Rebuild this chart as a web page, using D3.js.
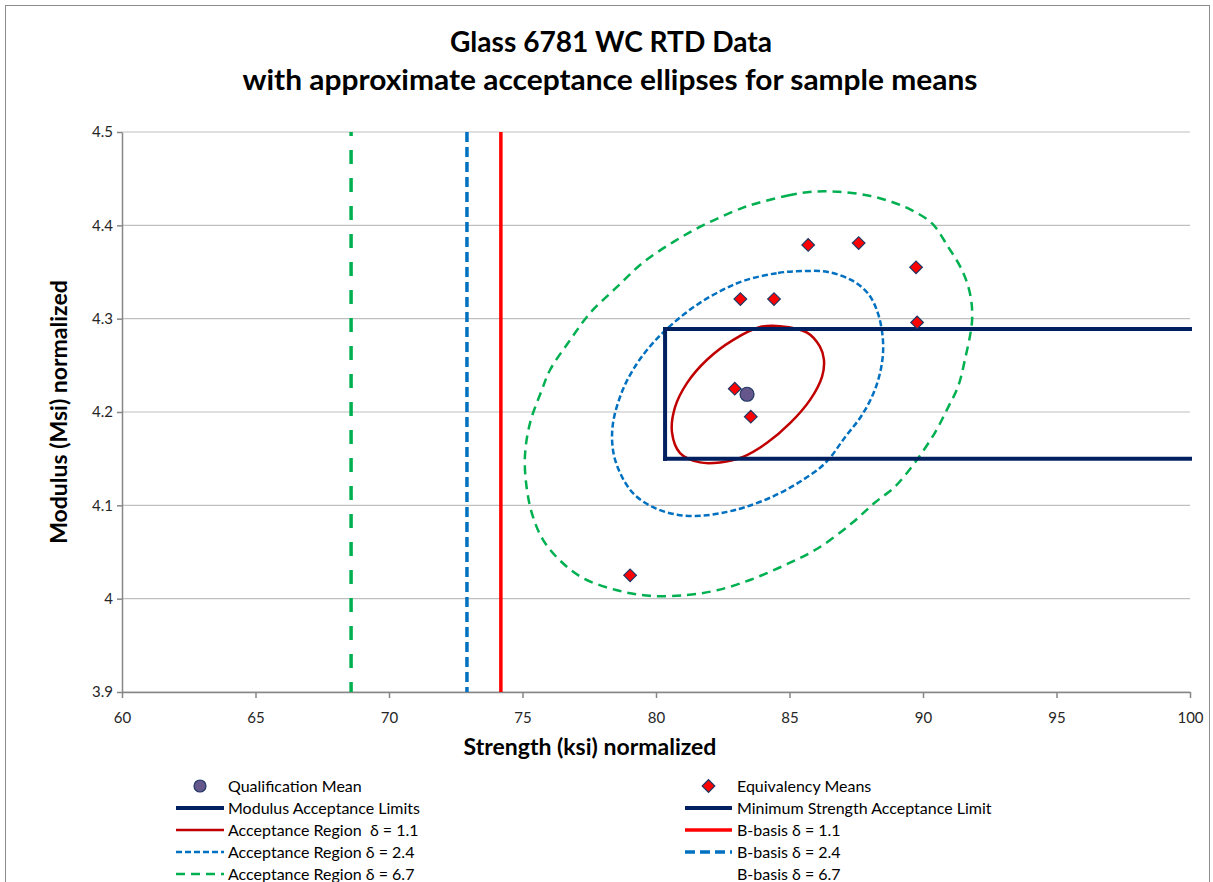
<!DOCTYPE html>
<html>
<head>
<meta charset="utf-8">
<script src="https://cdn.jsdelivr.net/npm/d3@7"></script>
<style>
  body { margin: 0; background: #fff; }
  text { font-family: Lato, "Open Sans", sans-serif; white-space: pre; }
</style>
</head>
<body>
<div id="chart"></div>
<script>
// Data
const xTicks = [60, 65, 70, 75, 80, 85, 90, 95, 100]
const yTicks = [3.9, 4, 4.1, 4.2, 4.3, 4.4, 4.5]

const qualMean = [{ x: 83.41, y: 4.219 }]

const equivMeans = [
    { x: 85.70, y: 4.379 },
    { x: 87.59, y: 4.381 },
    { x: 89.74, y: 4.355 },
    { x: 83.16, y: 4.321 },
    { x: 84.42, y: 4.321 },
    { x: 89.78, y: 4.296 },
    { x: 82.95, y: 4.225 },
    { x: 83.55, y: 4.195 },
    { x: 79.03, y: 4.025 },
]

const modulusLimits = [4.150, 4.289]
const minStrengthLimit = 80.34

const bBasis11 = 74.19
const bBasis24 = 72.92
const bBasis67 = 68.58

// acceptance ellipses, traced points (strength, modulus)
const ellipse11 = [
    [84.64, 4.292], [85.66, 4.285], [86.14, 4.270], [86.29, 4.256], [86.22, 4.238],
    [85.77, 4.213], [85.02, 4.188], [84.16, 4.167], [83.26, 4.152], [82.40, 4.146],
    [81.65, 4.146], [80.90, 4.156], [80.60, 4.178], [80.71, 4.205], [81.16, 4.231],
    [81.91, 4.256], [82.88, 4.277], [83.90, 4.291],
]

const ellipse24 = [
    [83.33, 4.341], [84.57, 4.349], [85.47, 4.351], [86.44, 4.350], [87.34, 4.341],
    [87.94, 4.327], [88.31, 4.306], [88.50, 4.277], [88.46, 4.252], [88.20, 4.224],
    [87.72, 4.197], [87.08, 4.173], [86.33, 4.145], [85.32, 4.124], [84.34, 4.109],
    [83.33, 4.098], [82.66, 4.093], [81.76, 4.089], [80.79, 4.090], [79.89, 4.098],
    [79.14, 4.113], [78.65, 4.135], [78.39, 4.159], [78.39, 4.188], [78.76, 4.224],
    [79.29, 4.252], [79.89, 4.274], [80.64, 4.295], [81.54, 4.315], [82.51, 4.331],
]

const ellipse67 = [
    [83.82, 4.424], [84.94, 4.432], [85.84, 4.436], [86.82, 4.436], [87.94, 4.432],
    [88.84, 4.425], [89.59, 4.416], [90.34, 4.402], [90.94, 4.377], [91.46, 4.352],
    [91.76, 4.327], [91.84, 4.299], [91.57, 4.256], [91.31, 4.227], [90.94, 4.205],
    [90.45, 4.178], [89.70, 4.146], [88.95, 4.120], [88.20, 4.103], [87.34, 4.081],
    [86.07, 4.054], [84.83, 4.036], [83.52, 4.020], [82.28, 4.009], [81.16, 4.004],
    [79.78, 4.003], [78.54, 4.009], [77.27, 4.022], [76.40, 4.041], [75.77, 4.063],
    [75.39, 4.088], [75.17, 4.116], [75.09, 4.152], [75.28, 4.188], [75.73, 4.224],
    [76.03, 4.245], [76.78, 4.277], [77.53, 4.306], [78.54, 4.334], [79.51, 4.360],
    [80.64, 4.382], [81.76, 4.400], [83.26, 4.419],
]

const legendLeft = [
    "Qualification Mean",
    "Modulus Acceptance Limits",
    "Acceptance Region  δ = 1.1",
    "Acceptance Region δ = 2.4",
    "Acceptance Region δ = 6.7",
]
const legendRight = [
    "Equivalency Means",
    "Minimum Strength Acceptance Limit",
    "B-basis δ = 1.1",
    "B-basis δ = 2.4",
    "B-basis δ = 6.7",
]

// styles
const navy = "#002060"
const styles = {
    ell11: { stroke: "#C00000", width: 2.5, dash: null },
    ell24: { stroke: "#0070C0", width: 2.5, dash: "6,3" },
    ell67: { stroke: "#00B050", width: 2.5, dash: "9,6" },
    limit: { stroke: navy, width: 4, dash: null },
    bb11: { stroke: "#FF0000", width: 3.5, dash: null },
    bb24: { stroke: "#0070C0", width: 3.5, dash: "10,5" },
    bb67: { stroke: "#00B050", width: 3.5, dash: "14,14", offset: 10 },
}

let dimensions = {
    width: 1213,
    height: 882,
    margin: { top: 132, right: 23, bottom: 190, left: 122 },
}
dimensions.boundedWidth = dimensions.width - dimensions.margin.left - dimensions.margin.right
dimensions.boundedHeight = dimensions.height - dimensions.margin.top - dimensions.margin.bottom

const wrapper = d3.select("#chart")
    .append("svg")
    .attr("width", dimensions.width)
    .attr("height", dimensions.height)

wrapper.append("rect")
    .attr("width", dimensions.width)
    .attr("height", dimensions.height)
    .attr("fill", "#fff")

// chart area border
wrapper.append("rect")
    .attr("x", 5.5).attr("y", 5.5)
    .attr("width", 1204).attr("height", 900)
    .attr("fill", "none")
    .attr("stroke", "#8c8c8c")
    .attr("stroke-width", 1)

const bounds = wrapper.append("g")
    .attr("transform", `translate(${dimensions.margin.left},${dimensions.margin.top})`)

// scales
const xScale = d3.scaleLinear()
    .domain([60, 100])
    .range([0, dimensions.boundedWidth])

const yScale = d3.scaleLinear()
    .domain([3.9, 4.5])
    .range([dimensions.boundedHeight, 0])

// gridlines
bounds.append("g")
    .selectAll("line")
    .data(yTicks)
    .join("line")
    .attr("x1", 0)
    .attr("x2", dimensions.boundedWidth)
    .attr("y1", d => yScale(d))
    .attr("y2", d => yScale(d))
    .attr("stroke", "#bfbfbf")
    .attr("stroke-width", 1.2)

// axes
const yAxis = bounds.append("g")
    .call(d3.axisLeft(yScale).tickValues(yTicks).tickFormat(d => String(d))
        .tickSize(5).tickSizeOuter(0).tickPadding(4))
const xAxis = bounds.append("g")
    .attr("transform", `translate(0,${dimensions.boundedHeight})`)
    .call(d3.axisBottom(xScale).tickValues(xTicks).tickSize(6).tickSizeOuter(0).tickPadding(14))

;[yAxis, xAxis].forEach(ax => {
    ax.selectAll("path, line").attr("stroke", "#868686").attr("stroke-width", 1.5)
    ax.selectAll("text")
        .attr("fill", "#262626")
        .style("font-size", "15px")
        .style("font-family", "Lato, sans-serif")
})

// draw data
const applyStyle = (sel, s) => sel
    .attr("fill", "none")
    .attr("stroke", s.stroke)
    .attr("stroke-width", s.width)
    .attr("stroke-dasharray", s.dash)
    .attr("stroke-dashoffset", s.offset || 0)

// B-basis vertical lines
const bbLines = [[bBasis67, styles.bb67], [bBasis24, styles.bb24], [bBasis11, styles.bb11]]
bbLines.forEach(([v, s]) => {
    bounds.append("line")
        .attr("x1", xScale(v)).attr("x2", xScale(v))
        .attr("y1", yScale(4.5)).attr("y2", yScale(3.9))
        .call(applyStyle, s)
})

// ellipses
const ellipseLine = d3.line()
    .x(d => xScale(d[0]))
    .y(d => yScale(d[1]))
    .curve(d3.curveCatmullRomClosed)

;[[ellipse67, styles.ell67], [ellipse24, styles.ell24], [ellipse11, styles.ell11]].forEach(([pts, s]) => {
    bounds.append("path")
        .attr("d", ellipseLine(pts))
        .call(applyStyle, s)
})

// acceptance limits
modulusLimits.forEach(m => {
    bounds.append("line")
        .attr("x1", xScale(minStrengthLimit)).attr("x2", xScale(100))
        .attr("y1", yScale(m)).attr("y2", yScale(m))
        .attr("stroke-linecap", "square")
        .call(applyStyle, styles.limit)
})
bounds.append("line")
    .attr("x1", xScale(minStrengthLimit)).attr("x2", xScale(minStrengthLimit))
    .attr("y1", yScale(modulusLimits[0])).attr("y2", yScale(modulusLimits[1]))
    .attr("stroke-linecap", "square")
    .call(applyStyle, styles.limit)

// markers
const diamond = d3.symbol().type(d3.symbolSquare).size(80)
bounds.append("g")
    .selectAll("path")
    .data(equivMeans)
    .join("path")
    .attr("d", diamond)
    .attr("transform", d => `translate(${xScale(d.x)},${yScale(d.y)}) rotate(45)`)
    .attr("fill", "#FF0000")
    .attr("stroke", "#1F3864")
    .attr("stroke-width", 1.2)

bounds.append("g")
    .selectAll("circle")
    .data(qualMean)
    .join("circle")
    .attr("cx", d => xScale(d.x))
    .attr("cy", d => yScale(d.y))
    .attr("r", 7)
    .attr("fill", "#65578C")
    .attr("stroke", "#1F3864")
    .attr("stroke-width", 1.2)

// titles
const title = wrapper.append("g")
    .attr("text-anchor", "middle")
    .style("font-weight", "bold")
    .style("font-size", "28px")
    .attr("fill", "#000")
title.append("text").attr("x", 611).attr("y", 52)
    .attr("textLength", 322).attr("lengthAdjust", "spacingAndGlyphs")
    .text("Glass 6781 WC RTD Data")
title.append("text").attr("x", 610).attr("y", 90)
    .attr("textLength", 735).attr("lengthAdjust", "spacingAndGlyphs")
    .text("with approximate acceptance ellipses for sample means")

wrapper.append("text")
    .attr("x", 590)
    .attr("y", 755)
    .attr("text-anchor", "middle")
    .style("font-weight", "bold")
    .style("font-size", "23px")
    .text("Strength (ksi) normalized")

wrapper.append("text")
    .attr("transform", `translate(67,${dimensions.margin.top + yScale(4.2)}) rotate(-90)`)
    .attr("text-anchor", "middle")
    .style("font-weight", "bold")
    .style("font-size", "23px")
    .text("Modulus (Msi) normalized")

// legend
const rowY = i => 786 + i * 22
const legendSymbols = [
    [{ type: "circle" }, { type: "line", s: styles.limit }, { type: "line", s: styles.ell11 },
     { type: "line", s: styles.ell24 }, { type: "line", s: styles.ell67 }],
    [{ type: "diamond" }, { type: "line", s: styles.limit }, { type: "line", s: styles.bb11 },
     { type: "line", s: styles.bb24 }, { type: "none" }],
]
const legendCols = [
    { labels: legendLeft, x0: 176, x1: 224, tx: 228 },
    { labels: legendRight, x0: 685, x1: 732, tx: 737 },
]
legendCols.forEach((col, c) => {
    const g = wrapper.append("g")
    col.labels.forEach((label, i) => {
        const sym = legendSymbols[c][i]
        const cx = (col.x0 + col.x1) / 2
        if (sym.type === "line") {
            g.append("line")
                .attr("x1", col.x0).attr("x2", col.x1)
                .attr("y1", rowY(i)).attr("y2", rowY(i))
                .call(applyStyle, { ...sym.s, offset: 0 })
        } else if (sym.type === "circle") {
            g.append("circle")
                .attr("cx", cx).attr("cy", rowY(i)).attr("r", 6)
                .attr("fill", "#65578C").attr("stroke", "#1F3864").attr("stroke-width", 1.2)
        } else if (sym.type === "diamond") {
            g.append("path")
                .attr("d", diamond)
                .attr("transform", `translate(${cx},${rowY(i)}) rotate(45)`)
                .attr("fill", "#FF0000").attr("stroke", "#1F3864").attr("stroke-width", 1.2)
        }
        g.append("text")
            .attr("x", col.tx)
            .attr("y", rowY(i))
            .attr("dy", "0.35em")
            .style("font-size", "16px")
            .attr("fill", "#000")
            .text(label)
    })
})
</script>
</body>
</html>
